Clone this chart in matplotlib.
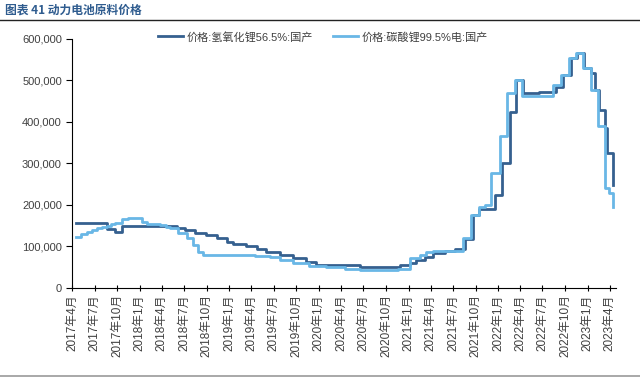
import matplotlib
matplotlib.use("Agg")
import matplotlib.pyplot as plt
import matplotlib.dates as mdates
from matplotlib.lines import Line2D
import pandas as pd

plt.rcParams['font.family'] = ['Liberation Sans', 'Noto Sans CJK SC']

title = "图表 41 动力电池原料价格"
series_names = ["价格:氢氧化锂56.5%:国产", "价格:碳酸锂99.5%电:国产"]

# LiOH 56.5% (change points, step series)
lioh_dates = ["2017-04-16", "2017-08-19", "2017-09-22", "2017-10-19", "2018-05-31", "2018-07-04",
              "2018-08-14", "2018-09-30", "2018-11-10", "2018-12-21", "2019-01-17", "2019-03-12",
              "2019-04-22", "2019-06-01", "2019-07-25", "2019-09-17", "2019-11-11", "2019-12-21",
              "2020-06-15", "2020-11-26", "2021-01-05", "2021-02-02", "2021-03-08", "2021-04-10",
              "2021-05-28", "2021-07-08", "2021-08-17", "2021-09-20", "2021-10-17", "2021-12-18",
              "2022-01-15", "2022-02-17", "2022-03-17", "2022-04-13", "2022-06-15", "2022-08-26",
              "2022-09-21", "2022-10-25", "2022-11-19", "2022-12-19", "2023-01-16", "2023-02-02",
              "2023-02-18", "2023-03-11", "2023-03-21", "2023-04-13"]
lioh_values = [157000, 142000, 136000, 149000, 144000, 140000,
               132000, 128000, 120000, 112000, 105000, 100000,
               94000, 87000, 79000, 72000, 63000, 56000,
               51000, 55000, 60000, 67000, 75000, 84000,
               90000, 95000, 118000, 175000, 190000, 224000,
               300000, 425000, 500000, 469000, 472000, 485000,
               513000, 553000, 566000, 530000, 518000, 477000,
               429000, 385000, 325000, 248000]

# Li2CO3 99.5% battery grade
li2co3_dates = ["2017-04-16", "2017-05-06", "2017-05-30", "2017-06-20", "2017-07-09", "2017-07-30",
                "2017-08-19", "2017-09-06", "2017-09-22", "2017-10-19", "2017-11-14", "2018-01-09",
                "2018-01-29", "2018-03-24", "2018-04-18", "2018-05-04", "2018-06-07", "2018-07-11",
                "2018-08-07", "2018-08-27", "2018-09-17", "2019-01-03", "2019-04-15", "2019-06-15",
                "2019-07-25", "2019-09-17", "2019-11-24", "2020-01-31", "2020-04-15", "2020-06-15",
                "2020-11-18", "2021-01-05", "2021-02-15", "2021-03-14", "2021-04-09", "2021-08-11",
                "2021-09-14", "2021-10-17", "2021-11-07", "2021-12-04", "2022-01-07", "2022-02-06",
                "2022-03-09", "2022-04-07", "2022-08-12", "2022-09-15", "2022-10-17", "2022-11-13",
                "2022-12-15", "2023-01-16", "2023-02-11", "2023-03-11", "2023-03-29", "2023-04-13"]
li2co3_values = [124000, 130000, 136000, 140000, 144000, 147000,
                 150000, 153000, 156000, 165000, 168000, 160000,
                 154000, 152000, 148000, 144000, 132000, 120000,
                 104000, 87000, 80000, 79000, 77000, 74000,
                 67000, 61000, 53000, 50000, 47000, 43000,
                 47000, 72000, 80000, 87000, 90000, 120000,
                 176000, 196000, 200000, 276000, 365000, 469000,
                 502000, 463000, 489000, 513000, 553000, 566000,
                 530000, 477000, 389000, 240000, 228000, 196000]

tick_dates = pd.date_range("2017-04-01", "2023-04-01", freq="3MS")
tick_labels = [f"{d.year}年{d.month}月" for d in tick_dates]
y_ticks = [0, 100000, 200000, 300000, 400000, 500000, 600000]

dark = "#35608F"
light = "#69B7E6"
txt = "#404040"

fig = plt.figure(figsize=(6.4, 3.77), dpi=100)
ax = fig.add_axes([0.113, 0.236, 0.85, 0.661])

ax.plot(pd.to_datetime(lioh_dates), lioh_values, drawstyle="steps-post", color=dark, lw=2.0,
        label=series_names[0], zorder=3)
ax.plot(pd.to_datetime(li2co3_dates), li2co3_values, drawstyle="steps-post", color=light, lw=2.0,
        label=series_names[1], zorder=4)

ax.set_xlim(pd.Timestamp("2017-04-01"), pd.Timestamp("2023-04-28"))
ax.set_ylim(0, 600000)
ax.set_yticks(y_ticks)
ax.set_yticklabels([f"{v:,}" for v in y_ticks], fontsize=8, color=txt)
ax.set_xticks(tick_dates)
ax.set_xticklabels(tick_labels, rotation=90, fontsize=8.5, color=txt)
ax.tick_params(axis="x", direction="inout", length=5, width=0.8, pad=2)
ax.tick_params(axis="y", direction="out", length=4, width=0.8)
for s in ["top", "right"]:
    ax.spines[s].set_visible(False)
for s in ["left", "bottom"]:
    ax.spines[s].set_color("black")
    ax.spines[s].set_linewidth(0.8)

leg = ax.legend(loc="upper left", bbox_to_anchor=(0.14, 1.07), ncol=2, frameon=False,
                fontsize=8, handlelength=2.25, columnspacing=1.8, handletextpad=0.3)
for t in leg.get_texts():
    t.set_color(txt)

fig.text(0.008, 0.972, title, fontsize=8.5, fontweight="bold", color="#2F5C8F",
         va="center", ha="left", family=["Noto Sans CJK SC"])
fig.add_artist(Line2D([0, 1], [0.948, 0.948], transform=fig.transFigure, color="#222222", lw=1.0))
fig.add_artist(Line2D([0, 1], [0.003, 0.003], transform=fig.transFigure, color="#999999", lw=1.2))

fig.savefig("out.png", dpi=100, facecolor="white")
